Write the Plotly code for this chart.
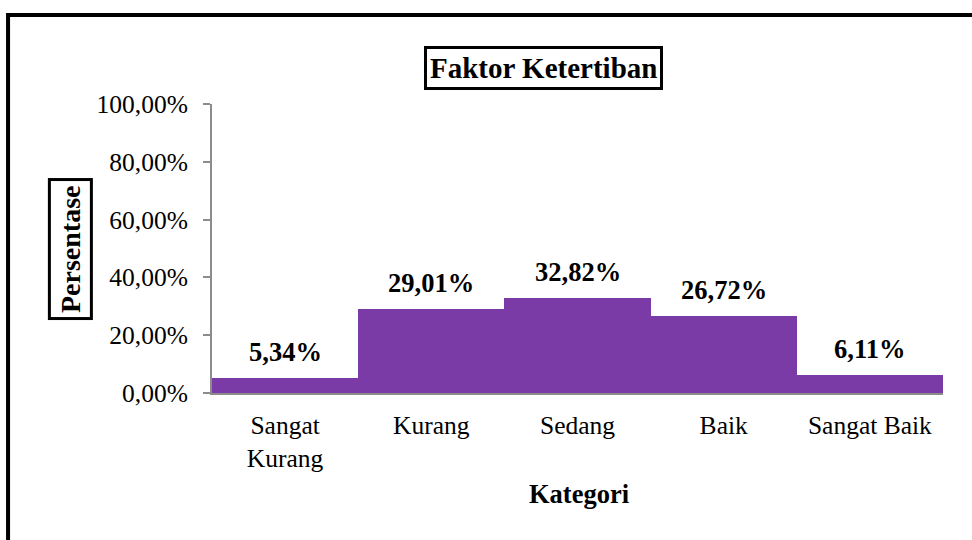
import plotly.graph_objects as go

categories = ["Sangat<br>Kurang", "Kurang", "Sedang", "Baik", "Sangat Baik"]
values = [5.34, 29.01, 32.82, 26.72, 6.11]
y_ticks = [0, 20, 40, 60, 80, 100]
y_tick_labels = ["0,00%", "20,00%", "40,00%", "60,00%", "80,00%", "100,00%"]
title_text = "Faktor Ketertiban"
x_title = "Kategori"
y_title = "Persentase"

FONT = "Liberation Serif, Times New Roman, serif"
BAR_COLOR = "#7B3BA7"

fig = go.Figure(
    go.Bar(
        x=categories,
        y=values,
        marker=dict(color=BAR_COLOR, line=dict(width=0)),
        width=1,
        hoverinfo="skip",
    )
)

annotations = []
for c, v in zip(categories, values):
    annotations.append(dict(
        x=c, y=v, xref="x", yref="y",
        text="<b>" + f"{v:.2f}%".replace(".", ",") + "</b>",
        showarrow=False, yanchor="middle", yshift=26,
        font=dict(family=FONT, size=26.5, color="black"),
    ))

annotations.append(dict(
    x=0.4535, y=1.1246, xref="paper", yref="paper",
    text="<b>" + title_text + "</b>", showarrow=False,
    xanchor="center", yanchor="middle",
    font=dict(family=FONT, size=29, color="black"),
    bordercolor="black", borderwidth=3, borderpad=3, bgcolor="white",
))
annotations.append(dict(
    x=-0.1943, y=0.498, xref="paper", yref="paper",
    text="<b>" + y_title + "</b>", showarrow=False, textangle=-90,
    xanchor="center", yanchor="middle",
    font=dict(family=FONT, size=28, color="black"),
    bordercolor="black", borderwidth=3, borderpad=4, bgcolor="white",
))
annotations.append(dict(
    x=0.502, y=-0.349, xref="paper", yref="paper",
    text="<b>" + x_title + "</b>", showarrow=False,
    xanchor="center", yanchor="middle",
    font=dict(family=FONT, size=26.5, color="black"),
))

fig.update_layout(
    width=972, height=540,
    margin=dict(l=212, r=29, t=104, b=147),
    paper_bgcolor="white", plot_bgcolor="white",
    showlegend=False,
    bargap=0,
    annotations=annotations,
    shapes=[dict(
        type="rect", xref="paper", yref="paper",
        x0=-0.2790, x1=1.3, y0=-1.0, y1=1.308,
        line=dict(color="black", width=4), fillcolor="rgba(0,0,0,0)",
        layer="above",
    )],
    xaxis=dict(
        showgrid=False, zeroline=False,
        showline=True, linecolor="#8c8c8c", linewidth=2,
        ticks="", tickfont=dict(family=FONT, size=25.5, color="black"),
        ticklabelstandoff=8,
        fixedrange=True,
    ),
    yaxis=dict(
        range=[0, 100], tickvals=y_ticks, ticktext=y_tick_labels,
        showgrid=False, zeroline=False,
        showline=True, linecolor="#8c8c8c", linewidth=2,
        ticks="outside", ticklen=7, tickcolor="#8c8c8c", tickwidth=2,
        tickfont=dict(family=FONT, size=25.5, color="black"),
        ticklabelstandoff=10,
        fixedrange=True,
    ),
)

fig.write_html("out.html")
